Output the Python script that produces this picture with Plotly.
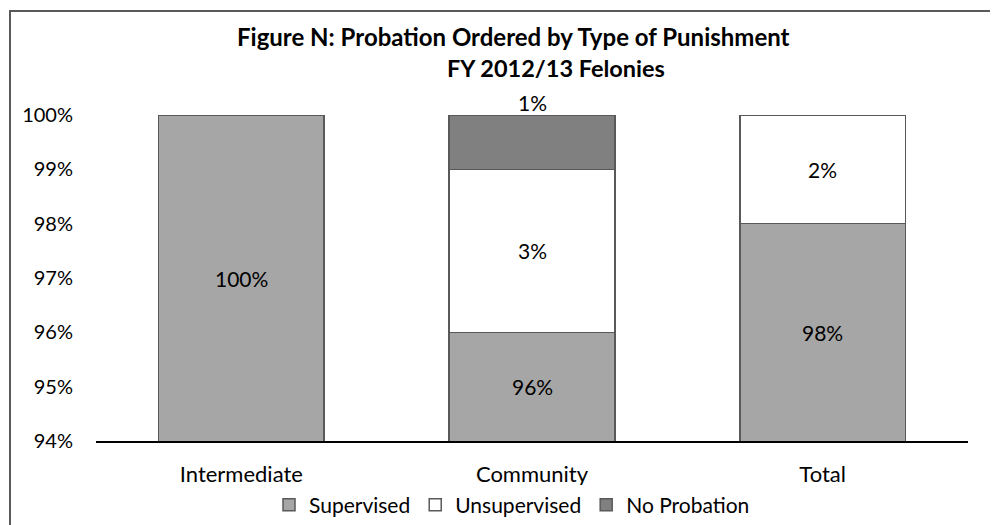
import plotly.graph_objects as go

# Dati (percentuali)
categorie = ["Intermediate", "Community", "Total"]
supervised = [100, 96, 98]
unsupervised = [0, 3, 2]
no_probation = [0, 1, 0]
y_ticks = [94, 95, 96, 97, 98, 99, 100]
y_ticktext = ["94%", "95%", "96%", "97%", "98%", "99%", "100%"]

Y_MIN, Y_MAX = 94, 100
FONT = "Lato"
BORDO = "#595959"

serie = [
    ("Supervised", supervised, "#A6A6A6"),
    ("Unsupervised", unsupervised, "#FFFFFF"),
    ("No Probation", no_probation, "#808080"),
]

fig = go.Figure()
for nome, valori, colore in serie:
    fig.add_trace(go.Bar(
        x=categorie, y=[v if v else None for v in valori], name=nome,
        marker=dict(color=colore, line=dict(color=BORDO, width=1.5)),
        width=0.57,
    ))

# Etichette: centrate nella parte visibile di ogni segmento (come Excel)
annotazioni = []
base = [0] * len(categorie)
for nome, valori, colore in serie:
    for i, v in enumerate(valori):
        lo, hi = base[i], base[i] + v
        if v:
            if nome == "No Probation":
                # etichetta sopra la barra
                annotazioni.append(dict(x=categorie[i], y=min(hi, Y_MAX), text=f"{v}%",
                                        showarrow=False, yanchor="bottom", yshift=-2,
                                        font=dict(size=21)))
            else:
                yc = (max(lo, Y_MIN) + hi) / 2
                annotazioni.append(dict(x=categorie[i], y=yc, text=f"{v}%", showarrow=False,
                                        font=dict(size=21)))
        base[i] = hi

# Titolo e sottotitolo (pagina con margine di 8px)
annotazioni.append(dict(text="<b>Figure N: Probation Ordered by Type of Punishment</b>",
                        xref="paper", yref="paper", x=(513 - 96) / 872, y=1 + (115 - 36) / 326,
                        xanchor="center", yanchor="middle", showarrow=False,
                        font=dict(size=24)))
annotazioni.append(dict(text="<b>FY 2012/13 Felonies</b>",
                        xref="paper", yref="paper", x=(556 - 96) / 872, y=1 + (115 - 68) / 326,
                        xanchor="center", yanchor="middle", showarrow=False,
                        font=dict(size=23.5)))

fig.update_layout(
    width=998, height=525,
    margin=dict(l=88, r=38, t=107, b=92, autoexpand=False),
    paper_bgcolor="white", plot_bgcolor="white",
    font=dict(family=FONT, size=20, color="#000000"),
    barmode="stack", bargap=0.43,
    xaxis=dict(showline=True, linecolor="#000000", linewidth=2, ticks="",
               showgrid=False, automargin=False, ticklabelstandoff=13,
               tickfont=dict(size=22)),
    yaxis=dict(range=[Y_MIN, Y_MAX], tickvals=y_ticks, ticktext=y_ticktext,
               showgrid=False, zeroline=False, showline=False, ticks="",
               automargin=False, ticklabelstandoff=22),
    legend=dict(orientation="h", x=(512 - 96) / 872, xanchor="center",
                yref="container", y=1 - 497 / 525, yanchor="middle",
                traceorder="normal", itemwidth=30, font=dict(size=21)),
    annotations=annotazioni,
    showlegend=True,
)

# Cornice del grafico
fig.add_shape(type="rect", xref="paper", yref="paper",
              x0=(10 - 96) / 872, x1=(1010 - 96) / 872,
              y0=(441 - 540) / 326, y1=1 + (115 - 11) / 326,
              line=dict(color=BORDO, width=2), layer="below")

fig.write_html("out.html")
